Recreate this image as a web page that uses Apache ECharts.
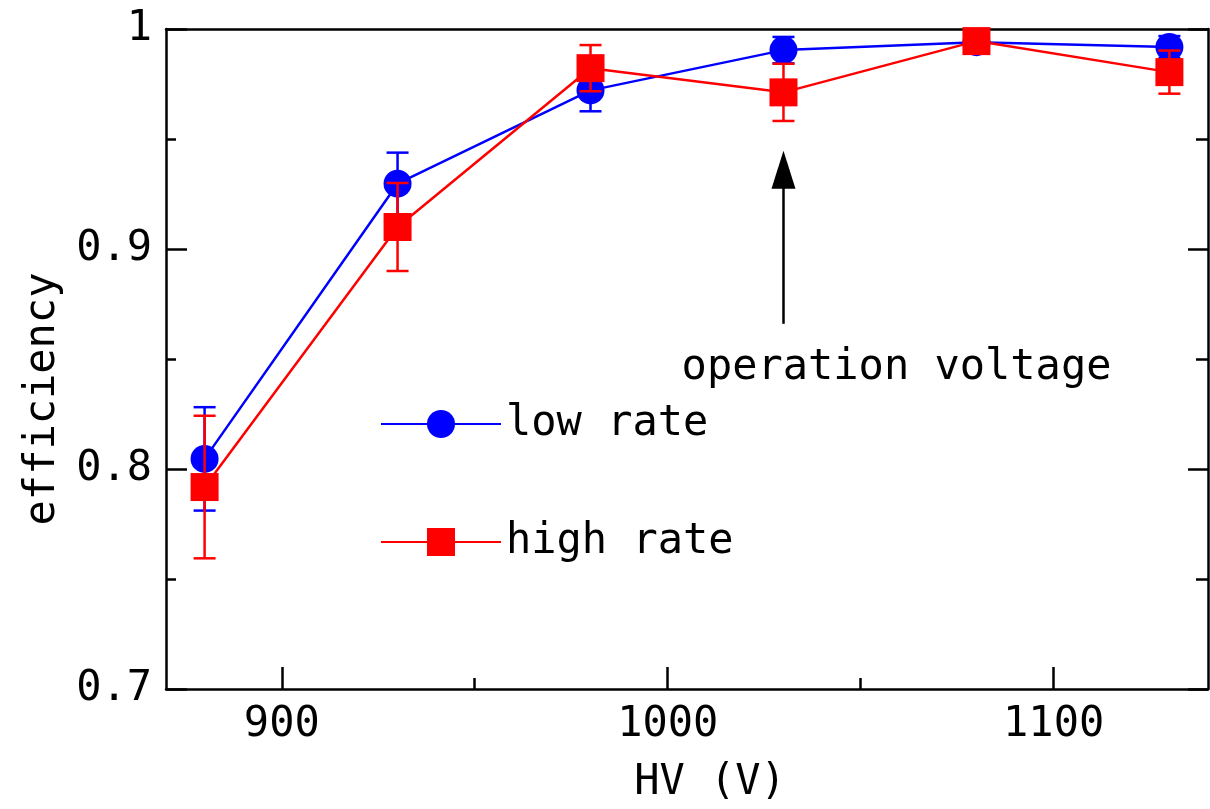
<!DOCTYPE html>
<html>
<head>
<meta charset="utf-8">
<script src="https://cdn.jsdelivr.net/npm/echarts@6/dist/echarts.min.js"></script>
<style>
  html, body { margin: 0; padding: 0; background: #fff; }
  #main { width: 1210px; height: 809px; }
</style>
</head>
<body>
<div id="main"></div>
<script>
// data
var hv = [880, 930, 980, 1030, 1080, 1130];
var lowRate = [0.8046, 0.9297, 0.9721, 0.9904, 0.9940, 0.9918];
var lowErr = [0.0235, 0.0141, 0.0095, 0.0060, 0.0030, 0.0050];
var highRate = [0.7918, 0.9100, 0.9822, 0.9712, 0.9945, 0.9804];
var highErr = [0.0324, 0.0200, 0.0105, 0.0130, 0.0030, 0.0098];
var xMajor = [900, 1000, 1100];
var xMinor = [950, 1050];

var FONT = '"DejaVu Sans Mono", monospace';

function pairs(ys, es) {
  return hv.map(function (x, i) {
    return es ? [x, ys[i], es[i]] : [x, ys[i]];
  });
}

function errorBars(color) {
  return function (params, api) {
    var x = api.value(0), y = api.value(1), e = api.value(2);
    var top = api.coord([x, y + e]);
    var bot = api.coord([x, y - e]);
    var hw = 11;
    var st = { stroke: color, lineWidth: 2.5 };
    return {
      type: 'group',
      children: [
        { type: 'line', shape: { x1: top[0], y1: top[1], x2: bot[0], y2: bot[1] }, style: st },
        { type: 'line', shape: { x1: top[0] - hw, y1: top[1], x2: top[0] + hw, y2: top[1] }, style: st },
        { type: 'line', shape: { x1: bot[0] - hw, y1: bot[1], x2: bot[0] + hw, y2: bot[1] }, style: st }
      ]
    };
  };
}

var myChart = echarts.init(document.getElementById('main'));

var axisLine = { show: true, lineStyle: { color: '#000', width: 2.5 } };

var option = {
  animation: false,
  backgroundColor: '#fff',
  grid: { left: 166, right: 2, top: 29, bottom: 120 },
  legend: {
    data: ['low rate', 'high rate'],
    orient: 'vertical',
    left: 380,
    top: 403,
    padding: 0,
    itemWidth: 120,
    itemHeight: 35,
    itemGap: 76,
    textStyle: { fontFamily: FONT, fontSize: 42, color: '#000' }
  },
  xAxis: [
    {
      type: 'value', position: 'bottom', min: 870, max: 1140,
      axisLine: axisLine,
      axisTick: { inside: true, length: 22, lineStyle: { width: 2.5, color: '#000' }, customValues: xMajor },
      axisLabel: {
        customValues: xMajor, margin: 15, fontFamily: FONT, fontSize: 42, color: '#000',
        formatter: function (v) { return String(v); }
      },
      splitLine: { show: false },
      name: 'HV (V)', nameLocation: 'middle', nameGap: 73,
      nameTextStyle: { fontFamily: FONT, fontSize: 42, color: '#000', padding: [0, 0, 0, 46] }
    },
    {
      type: 'value', position: 'bottom', min: 870, max: 1140,
      axisLine: { show: false },
      axisTick: { inside: true, length: 11, lineStyle: { width: 2.5, color: '#000' }, customValues: xMinor },
      axisLabel: { show: false },
      splitLine: { show: false }
    },
    {
      type: 'value', position: 'top', min: 870, max: 1140,
      axisLine: axisLine,
      axisTick: { show: false },
      axisLabel: { show: false },
      splitLine: { show: false }
    }
  ],
  yAxis: [
    {
      type: 'value', position: 'left', min: 0.7, max: 1, interval: 0.1,
      axisLine: axisLine,
      axisTick: { inside: true, length: 21, lineStyle: { width: 2.5, color: '#000' } },
      minorTick: { show: true, splitNumber: 2, length: 10, lineStyle: { width: 2.5, color: '#000' } },
      axisLabel: {
        margin: 14, fontFamily: FONT, fontSize: 42, color: '#000',
        formatter: function (v) { return Math.abs(v - 1) < 1e-9 ? '1' : v.toFixed(1); }
      },
      splitLine: { show: false },
      name: 'efficiency', nameLocation: 'middle', nameGap: 102,
      nameTextStyle: { fontFamily: FONT, fontSize: 42, color: '#000', padding: [0, 80, 0, 0] }
    },
    {
      type: 'value', position: 'right', min: 0.7, max: 1, interval: 0.1,
      axisLine: axisLine,
      axisTick: { inside: true, length: 20, lineStyle: { width: 2.5, color: '#000' } },
      minorTick: { show: true, splitNumber: 2, length: 12, lineStyle: { width: 2.5, color: '#000' } },
      axisLabel: { show: false },
      splitLine: { show: false }
    }
  ],
  series: [
    {
      type: 'custom', xAxisIndex: 0, yAxisIndex: 0, z: 2,
      renderItem: errorBars('#0000ff'),
      data: pairs(lowRate, lowErr)
    },
    {
      name: 'low rate', type: 'line', xAxisIndex: 0, yAxisIndex: 0, z: 3,
      data: pairs(lowRate),
      symbol: 'circle', symbolSize: 28,
      itemStyle: { color: '#0000ff' },
      lineStyle: { color: '#0000ff', width: 2.5 },
      markLine: {
        silent: true,
        symbol: ['none', 'triangle'],
        symbolSize: [24, 38],
        lineStyle: { color: '#000', width: 2.5, type: 'solid' },
        itemStyle: { color: '#000' },
        label: { show: false },
        data: [[{ coord: [1030, 0.866] }, { coord: [1030, 0.936] }]]
      }
    },
    {
      type: 'custom', xAxisIndex: 0, yAxisIndex: 0, z: 4,
      renderItem: errorBars('#ff0000'),
      data: pairs(highRate, highErr)
    },
    {
      name: 'high rate', type: 'line', xAxisIndex: 0, yAxisIndex: 0, z: 5,
      data: pairs(highRate),
      symbol: 'rect', symbolSize: 28,
      itemStyle: { color: '#ff0000' },
      lineStyle: { color: '#ff0000', width: 2.5 }
    }
  ]
};

myChart.setOption(option);

// annotation text, placed from data coordinates
var p = myChart.convertToPixel({ xAxisIndex: 0, yAxisIndex: 0 }, [1003.6, 0.846]);
myChart.setOption({
  graphic: [{
    type: 'text', x: p[0], y: p[1],
    style: { text: 'operation voltage', fontFamily: FONT, fontSize: 42, fill: '#000', textAlign: 'left', textVerticalAlign: 'middle' }
  }]
});
</script>
</body>
</html>
